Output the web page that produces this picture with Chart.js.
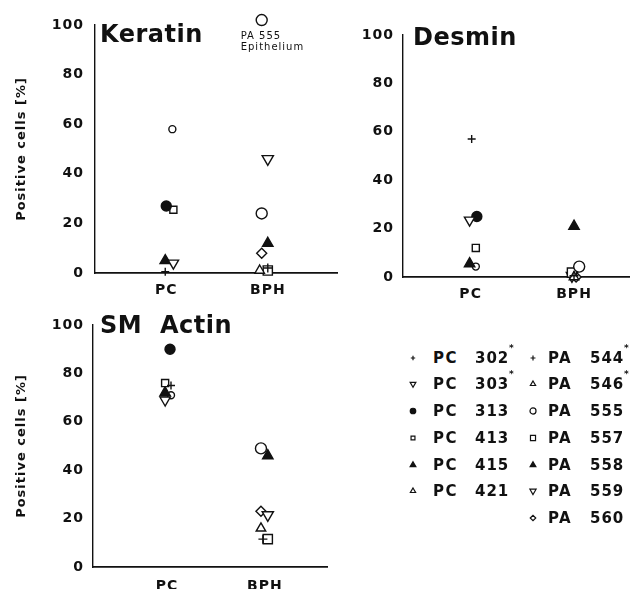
<!DOCTYPE html>
<html>
<head>
<meta charset="utf-8">
<script src="https://cdn.jsdelivr.net/npm/chart.js@4.4.1/dist/chart.umd.min.js"></script>
<style>
  body { margin: 0; background: #fff; }
  #page { position: relative; width: 637px; height: 589px; overflow: hidden; font-family: 'DejaVu Sans', sans-serif; color: #111; }
  canvas.panel { position: absolute; }
  .lg { position: absolute; font-weight: bold; font-size: 15px; line-height: 16px; white-space: nowrap; }
  .lg.pre { letter-spacing: 1.5px; }
  .lg.num { letter-spacing: 1px; }
  .lg.star { font-size: 9px; line-height: 10px; }
  canvas.mk { position: absolute; }
</style>
</head>
<body>
<div id="page"></div>
<script>
// categories and samples
const categories = ['PC', 'BPH'];
const pcSamples = ['PC 302', 'PC 303', 'PC 313', 'PC 413', 'PC 415', 'PC 421'];
const paSamples = ['PA 544', 'PA 546', 'PA 555', 'PA 557', 'PA 558', 'PA 559', 'PA 560'];
const starred = ['PC 302', 'PC 303', 'PA 544', 'PA 546'];
const yTicks = [0, 20, 40, 60, 80, 100];

// % positive cells
const keratinPC = [0.5, 4, 27, 25.5, 5, 58];
const keratinBPH = [2, 1, 24, 1, 12, 46, 8];
const keratinEpithelium = 102; // PA 555 epithelium
const desminPC = [57, 23.5, 25, 12, 5.5, 4.3];
const desminBPH = [0.5, 0, 4.3, 1.8, 21, 0.5, 0];
const actinPC = [75, 69, 90, 76, 72, 71];
const actinBPH = [11.5, 16, 49, 11.5, 46, 21.5, 23];

// small sideways shifts so overlapping symbols stay readable (like the print)
const keratinPCNudge = [-0.01, 0.07, 0, 0.07, -0.01, 0.06];
const keratinBPHNudge = [0, -0.08, -0.06, 0, 0, 0, -0.06];
const desminPCNudge = [0.01, -0.01, 0.06, 0.05, -0.01, 0.05];
const desminBPHNudge = [0, 0, 0.05, -0.02, 0, -0.02, 0.02];
const actinPCNudge = [0.04, -0.02, 0.03, -0.02, -0.02, 0.04];
const actinBPHNudge = [-0.02, -0.04, -0.04, 0.03, 0.03, 0.03, -0.04];

const ink = '#111';
const font = "'DejaVu Sans', sans-serif";

// marker for each sample
const pcMarkers = [
  { style: 'cross', r: 4 },
  { style: 'triangle', r: 6, rot: 180 },
  { style: 'circle', r: 5, fill: true },
  { style: 'rect', r: 5 },
  { style: 'triangle', r: 6, fill: true },
  { style: 'circle', r: 3.5 }
];
const paMarkers = [
  { style: 'cross', r: 4.5 },
  { style: 'triangle', r: 5.5 },
  { style: 'circle', r: 5.5 },
  { style: 'rect', r: 6.5 },
  { style: 'triangle', r: 6, fill: true },
  { style: 'triangle', r: 6.5, rot: 180 },
  { style: 'rectRot', r: 5 }
];
const legendPC421 = { style: 'triangle', r: 5.5 };

const page = document.getElementById('page');

function pointSet(label, x, y, m) {
  return {
    label: label,
    data: [{ x: x, y: y }],
    pointStyle: m.style,
    pointRadius: m.r,
    pointRotation: m.rot || 0,
    backgroundColor: m.fill ? ink : '#fff',
    borderColor: ink,
    borderWidth: 1.4,
    showLine: false,
    clip: false
  };
}

const panelText = {
  id: 'panelText',
  beforeDraw(chart) {
    // the print uses a wide, spaced type
    if ('letterSpacing' in chart.ctx) chart.ctx.letterSpacing = '1px';
  },
  afterDraw(chart, args, opts) {
    const { ctx, chartArea } = chart;
    ctx.save();
    ctx.fillStyle = ink;
    ctx.textBaseline = 'alphabetic';
    ctx.textAlign = 'left';
    ctx.font = 'bold 24px ' + font;
    if ('letterSpacing' in ctx) ctx.letterSpacing = '0.5px';
    ctx.fillText(opts.title, chartArea.left + opts.dx, chartArea.top + opts.dy);
    if (opts.note) {
      const meta = chart.getDatasetMeta(chart.data.datasets.length - 1);
      const p = meta.data[0];
      ctx.font = '10px ' + font;
      if ('letterSpacing' in ctx) ctx.letterSpacing = '1px';
      ctx.fillText(opts.note[0], p.x - 21, p.y + 19);
      ctx.fillText(opts.note[1], p.x - 21, p.y + 30);
    }
    ctx.restore();
  }
};

function makePanel(cfg) {
  const cv = document.createElement('canvas');
  cv.className = 'panel';
  cv.width = cfg.w;
  cv.height = cfg.h;
  cv.style.left = cfg.x + 'px';
  cv.style.top = cfg.y + 'px';
  page.appendChild(cv);

  const unit = cfg.bphPx - cfg.pcPx;
  const xMin = -(cfg.pcPx - cfg.left) / unit;
  const xMax = 1 + (cfg.right - cfg.bphPx) / unit;

  const datasets = [];
  pcSamples.forEach((name, i) => datasets.push(pointSet(name, 0 + cfg.pcNudge[i], cfg.pc[i], pcMarkers[i])));
  paSamples.forEach((name, i) => datasets.push(pointSet(name, 1 + cfg.bphNudge[i], cfg.bph[i], paMarkers[i])));
  if (cfg.extra !== undefined) {
    datasets.push(pointSet('PA 555 Epithelium', 1 - 0.06, cfg.extra, paMarkers[2]));
  }

  new Chart(cv, {
    type: 'scatter',
    data: { datasets: datasets },
    plugins: [panelText],
    options: {
      responsive: false,
      animation: false,
      events: [],
      layout: { padding: { top: cfg.top - cfg.y, right: cfg.x + cfg.w - cfg.right, bottom: 0, left: 0 } },
      plugins: {
        legend: { display: false },
        tooltip: { enabled: false },
        panelText: { title: cfg.title, dx: cfg.tdx, dy: cfg.tdy, note: cfg.note }
      },
      scales: {
        x: {
          type: 'linear',
          min: xMin,
          max: xMax,
          afterFit(s) { s.height = cfg.y + cfg.h - cfg.bottom; },
          afterBuildTicks(s) { s.ticks = categories.map((c, i) => ({ value: i })); },
          grid: { display: false, drawTicks: false, tickLength: 0 },
          border: { display: true, color: ink, width: 1.8 },
          ticks: {
            color: ink,
            padding: cfg.xPad,
            font: { family: font, size: 14, weight: 'bold' },
            callback: v => categories[v]
          }
        },
        y: {
          min: 0,
          max: 100,
          afterFit(s) { s.width = cfg.left - cfg.x; },
          afterBuildTicks(s) { s.ticks = yTicks.map(v => ({ value: v })); },
          grid: { display: false, drawTicks: false, tickLength: 0 },
          border: { display: true, color: ink, width: 1.4 },
          ticks: {
            color: ink,
            padding: cfg.yPad,
            font: { family: font, size: 14, weight: 'bold' }
          },
          title: {
            display: !!cfg.yTitle,
            text: 'Positive cells [%]',
            color: ink,
            font: { family: font, size: 13, weight: 'bold' },
            padding: { top: 14, bottom: 0 }
          }
        }
      }
    }
  });
}

makePanel({
  title: 'Keratin', tdx: 5, tdy: 17,
  x: 0, y: 0, w: 345, h: 300,
  left: 95, right: 343, top: 25, bottom: 273,
  pcPx: 168, bphPx: 272, xPad: 9, yPad: 11, yTitle: true,
  pc: keratinPC, bph: keratinBPH, pcNudge: keratinPCNudge, bphNudge: keratinBPHNudge,
  extra: keratinEpithelium, note: ['PA 555', 'Epithelium']
});

makePanel({
  title: 'Desmin', tdx: 10, tdy: 10,
  x: 330, y: 0, w: 307, h: 302,
  left: 403, right: 637, top: 35, bottom: 277,
  pcPx: 473, bphPx: 580, xPad: 9, yPad: 9, yTitle: false,
  pc: desminPC, bph: desminBPH, pcNudge: desminPCNudge, bphNudge: desminBPHNudge
});

makePanel({
  title: 'SM  Actin', tdx: 7, tdy: 8,
  x: 0, y: 300, w: 335, h: 289,
  left: 93, right: 330, top: 325, bottom: 567,
  pcPx: 168, bphPx: 267, xPad: 11, yPad: 9, yTitle: true,
  pc: actinPC, bph: actinBPH, pcNudge: actinPCNudge, bphNudge: actinBPHNudge
});

// legend, two columns built from the sample lists
function legendMarker(m, cx, cy) {
  const c = document.createElement('canvas');
  c.className = 'mk';
  c.width = 14; c.height = 14;
  c.style.left = (cx - 7) + 'px';
  c.style.top = (cy - 7) + 'px';
  page.appendChild(c);
  const ctx = c.getContext('2d');
  ctx.fillStyle = m.fill ? ink : '#fff';
  ctx.strokeStyle = ink;
  ctx.lineWidth = 1.2;
  Chart.helpers.drawPoint(ctx, { pointStyle: m.style, radius: m.r * 0.55, rotation: m.rot || 0, borderWidth: 1.2 }, 7, 7);
}

function legendText(text, cls, left, top) {
  const d = document.createElement('div');
  d.className = 'lg ' + cls;
  d.textContent = text;
  d.style.left = left + 'px';
  d.style.top = top + 'px';
  page.appendChild(d);
}

function legendColumn(names, markers, mx, tx) {
  names.forEach((name, i) => {
    const cy = 357.5 + i * 26.75;
    const parts = name.split(' ');
    legendMarker(markers[i], mx, cy);
    legendText(parts[0], 'pre', tx, cy - 8);
    legendText(parts[1], 'num', tx + 42, cy - 8);
    if (starred.includes(name)) legendText('*', 'star', tx + 76, cy - 15);
  });
}

legendColumn(pcSamples, pcMarkers.slice(0, 5).concat([legendPC421]), 413, 433);
legendColumn(paSamples, paMarkers, 533, 548);
</script>
</body>
</html>
